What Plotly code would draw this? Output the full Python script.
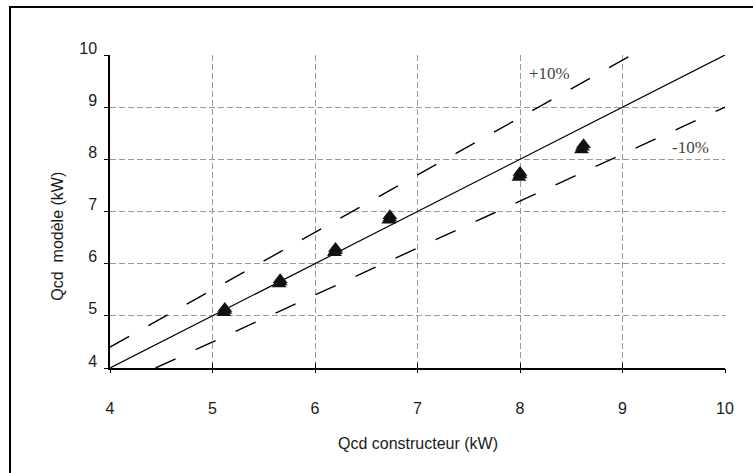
import plotly.graph_objects as go

# Data
qcd_constructeur = [5.11, 5.12, 5.12, 5.65, 5.66, 5.66, 6.19, 6.20, 6.20,
                    6.72, 6.73, 6.73, 7.99, 8.00, 8.00, 8.60, 8.61, 8.62]
qcd_modele = [5.06, 5.10, 5.14, 5.61, 5.65, 5.69, 6.21, 6.25, 6.29,
              6.83, 6.87, 6.92, 7.65, 7.70, 7.75, 8.18, 8.23, 8.28]

ref_x = [4, 10]
ref_y = [4, 10]
plus10_x = [4, 10 / 1.1]
plus10_y = [4.4, 10]
minus10_x = [4 / 0.9, 10]
minus10_y = [4, 9]

ticks = [4, 5, 6, 7, 8, 9, 10]

fig = go.Figure()
fig.add_trace(go.Scatter(x=ref_x, y=ref_y, mode="lines",
                         line=dict(color="black", width=1.2), showlegend=False))
fig.add_trace(go.Scatter(x=plus10_x, y=plus10_y, mode="lines",
                         line=dict(color="black", width=1.4, dash="22px,22px"), showlegend=False))
fig.add_trace(go.Scatter(x=minus10_x, y=minus10_y, mode="lines",
                         line=dict(color="black", width=1.4, dash="22px,22px"), showlegend=False))
fig.add_trace(go.Scatter(x=qcd_constructeur, y=qcd_modele, mode="markers",
                         marker=dict(symbol="triangle-up", size=13, color="#111111",
                                     line=dict(width=0)),
                         showlegend=False))
# dummy trace on overlay axis for outward crossing ticks
fig.add_trace(go.Scatter(x=ref_x, y=ref_y, xaxis="x2", mode="lines",
                         line=dict(width=0), hoverinfo="skip", showlegend=False))

font = dict(family="Liberation Sans, Arial, sans-serif", size=16, color="#1a1a1a")
grid = dict(showgrid=True, gridcolor="#9a9a9a", griddash="6px,3px", gridwidth=1)

fig.update_layout(
    width=753, height=473,
    margin=dict(l=110, r=28, t=55, b=105),
    paper_bgcolor="white", plot_bgcolor="white",
    font=font,
    xaxis=dict(range=[4, 10], tickvals=ticks, ticks="inside", ticklen=5,
               tickcolor="black", showline=True, linecolor="black", linewidth=1.5,
               ticklabelstandoff=25, zeroline=False, **grid),
    xaxis2=dict(range=[4, 10], overlaying="x", side="bottom", anchor="y",
                tickvals=ticks, ticks="outside", ticklen=4, tickcolor="black",
                showticklabels=False, showgrid=False, showline=False, zeroline=False),
    yaxis=dict(range=[4, 10], tickvals=ticks, ticks="outside", ticklen=4,
               tickcolor="black", showline=True, linecolor="black", linewidth=1.5,
               ticklabelshift=-7, ticklabelstandoff=4, zeroline=False, **grid),
    annotations=[
        dict(text="+10%", x=8.29, y=9.65, xref="x", yref="y", showarrow=False,
             font=dict(family="Liberation Serif, Times New Roman, serif", size=17, color="#444444")),
        dict(text="-10%", x=9.66, y=8.23, xref="x", yref="y", showarrow=False,
             font=dict(family="Liberation Serif, Times New Roman, serif", size=17, color="#444444")),
        dict(text="Qcd constructeur (kW)", x=0.5, y=-0.24, xref="paper", yref="paper",
             showarrow=False, yanchor="middle", font=font),
        dict(text="Qcd  modèle (kW)", x=-0.086, y=0.42, xref="paper", yref="paper",
             showarrow=False, textangle=-90, xanchor="center", yanchor="middle", font=font),
    ],
    shapes=[
        dict(type="rect", xref="paper", yref="paper",
             x0=-0.1626, y0=-0.4, x1=1.2, y1=1.153,
             line=dict(color="black", width=2), fillcolor="rgba(0,0,0,0)", layer="above"),
    ],
)

fig.write_html("out.html")
